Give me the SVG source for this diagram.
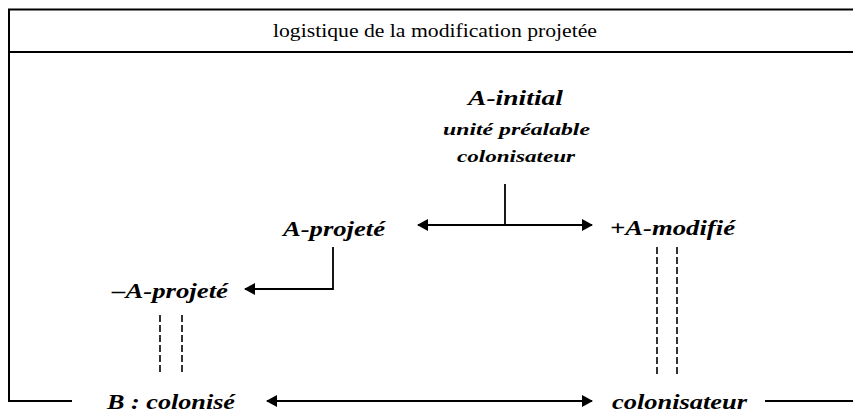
<svg xmlns="http://www.w3.org/2000/svg" width="853" height="413" viewBox="0 0 853 413">
<style>
.frame{stroke:#000;stroke-width:2;fill:none}
.ln{stroke:#000;stroke-width:1.8;fill:none}
.dash{stroke:#000;stroke-width:1.6;fill:none;stroke-dasharray:7 3}
.t{font-family:"Liberation Serif",serif;fill:#000}
.bi{font-weight:bold;font-style:italic}
</style>
<defs>
<marker id="ah" viewBox="0 0 11 12" refX="10" refY="6" markerWidth="11" markerHeight="12" markerUnits="userSpaceOnUse" orient="auto-start-reverse">
<path d="M0,0 L11,6 L0,12 Z" fill="#000"/>
</marker>
</defs>
<rect width="853" height="413" fill="#fff"/>
<g id="frame">
<path class="frame" d="M853,9.5 H9 V401 H72"/>
<path class="frame" d="M9,52 H853"/>
<path class="frame" d="M765,401 H853"/>
<text class="t" x="273" y="37" font-size="19.5" textLength="324" lengthAdjust="spacingAndGlyphs">logistique de la modification projetée</text>
</g>
<g id="connectors">
<path class="ln" d="M505,184 V225"/>
<path class="ln" d="M418,225 H592" marker-start="url(#ah)" marker-end="url(#ah)"/>
<path class="ln" d="M333,247 V289 H245" marker-end="url(#ah)"/>
<path class="dash" d="M160,315 V375 M182,315 V375"/>
<path class="dash" d="M657,247 V376 M677,247 V376"/>
<path class="ln" d="M267,401 H592" marker-start="url(#ah)" marker-end="url(#ah)"/>
</g>
<g id="a-initial">
<text class="t bi" x="468" y="105" font-size="22" textLength="95" lengthAdjust="spacingAndGlyphs">A-initial</text>
<text class="t bi" x="443" y="135" font-size="17" textLength="147" lengthAdjust="spacingAndGlyphs">unité préalable</text>
<text class="t bi" x="457" y="162" font-size="17" textLength="118" lengthAdjust="spacingAndGlyphs">colonisateur</text>
</g>
<g id="a-projete">
<text class="t bi" x="283" y="236" font-size="20" textLength="102" lengthAdjust="spacingAndGlyphs">A-projeté</text>
</g>
<g id="a-modifie">
<text class="t bi" x="610" y="235" font-size="20" textLength="125" lengthAdjust="spacingAndGlyphs">+A-modifié</text>
</g>
<g id="minus-a-projete">
<text class="t bi" x="112" y="298" font-size="20" textLength="116" lengthAdjust="spacingAndGlyphs">–A-projeté</text>
</g>
<g id="b-colonise">
<text class="t bi" x="107" y="409" font-size="21" textLength="128" lengthAdjust="spacingAndGlyphs">B : colonisé</text>
</g>
<g id="colonisateur">
<text class="t bi" x="612" y="409" font-size="21" textLength="135" lengthAdjust="spacingAndGlyphs">colonisateur</text>
</g>
</svg>
